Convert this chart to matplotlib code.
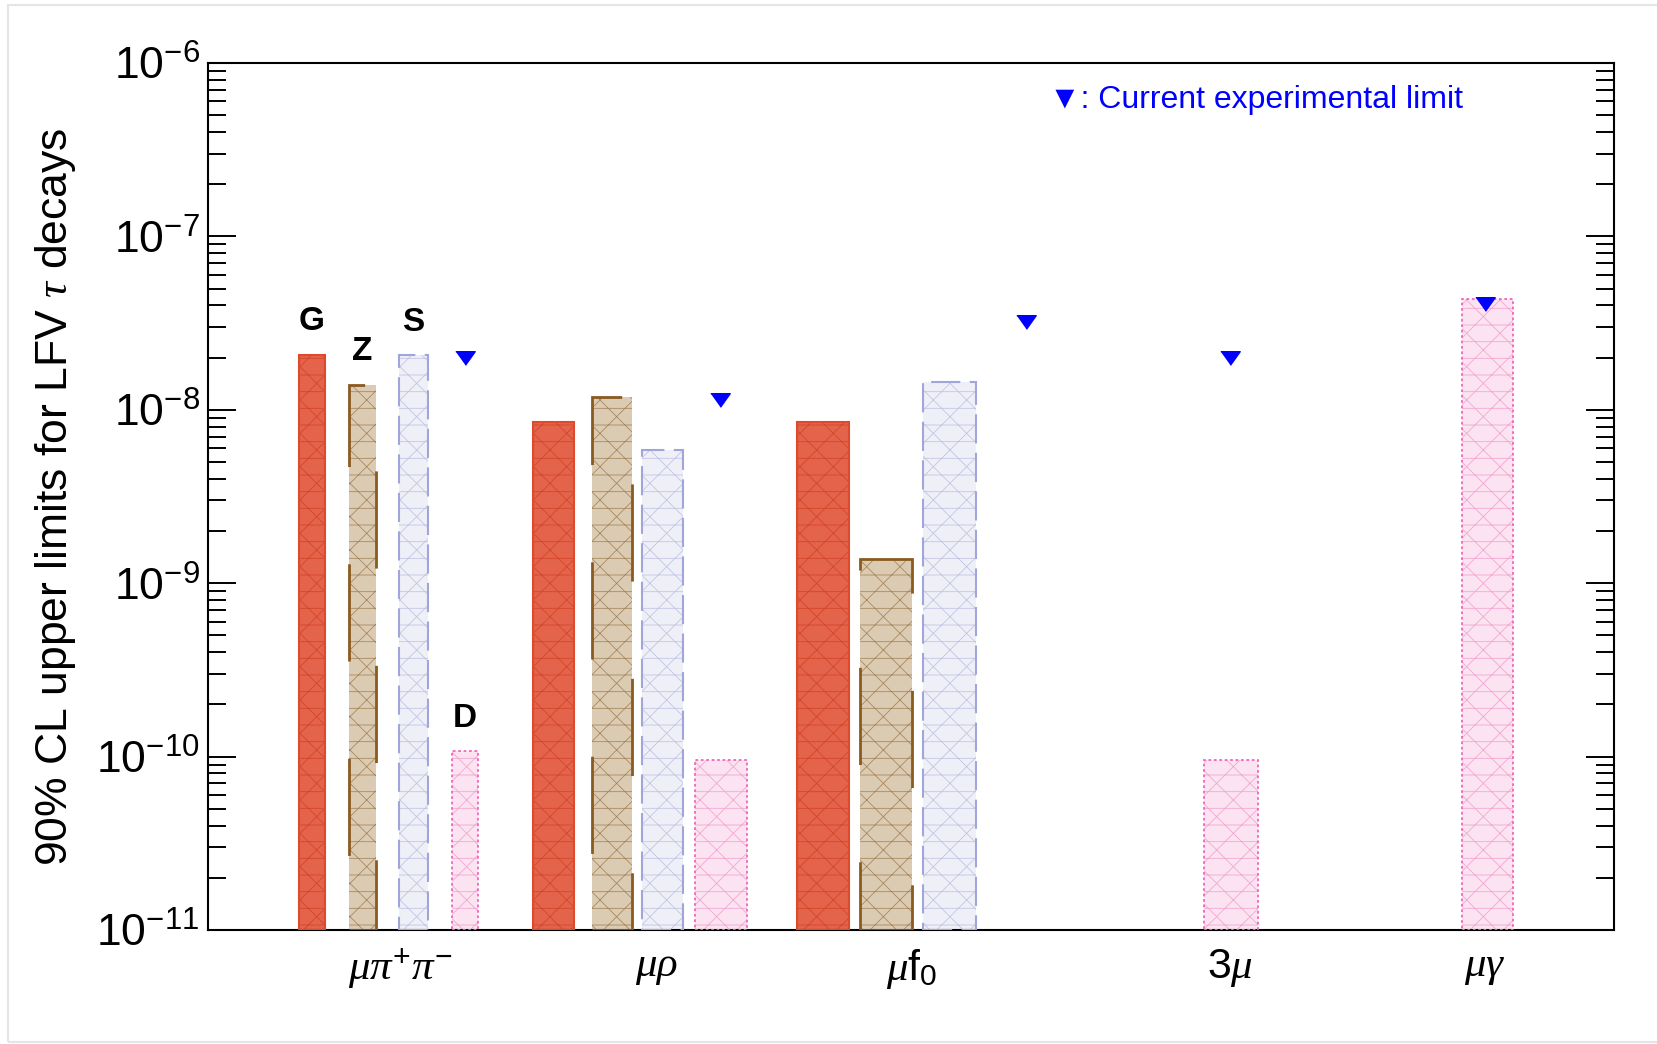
import matplotlib
matplotlib.use("Agg")
import matplotlib.pyplot as plt
from matplotlib.patches import Rectangle
from matplotlib.ticker import LogLocator, NullFormatter

# ======================================
# DATA
# ======================================

decays = [r"$\mu\pi^{+}\pi^{-}$", r"$\mu\rho$", r"$\mu\mathrm{f}_{0}$", r"$3\mu$", r"$\mu\gamma$"]
models = ["G", "Z", "S", "D"]

limit_G = [2.07e-8, 8.5e-9, 8.5e-9, None, None]
limit_Z = [1.39e-8, 1.19e-8, 1.38e-9, None, None]
limit_S = [2.06e-8, 5.86e-9, 1.45e-8, None, None]
limit_D = [1.07e-10, 9.5e-11, None, 9.5e-11, 4.36e-8]

exp_limit = [2.0e-8, 1.14e-8, 3.2e-8, 2.0e-8, 4.1e-8]

limits = {"G": limit_G, "Z": limit_Z, "S": limit_S, "D": limit_D}

# ======================================
# LAYOUT / STYLE
# ======================================

tick_x = [1.82, 4.24, 6.66, 9.67, 12.08]

bar_offset = {
    "G": [-0.835, -0.97, -0.845, 0.0, 0.0],
    "Z": [-0.36, -0.42, -0.245, 0.0, 0.0],
    "S": [0.125, 0.06, 0.355, 0.0, 0.0],
    "D": [0.61, 0.61, 0.0, 0.005, 0.025],
}
bar_width = {
    "G": [0.25, 0.39, 0.49, 0.5, 0.5],
    "Z": [0.26, 0.38, 0.49, 0.5, 0.5],
    "S": [0.27, 0.38, 0.51, 0.5, 0.5],
    "D": [0.24, 0.49, 0.5, 0.51, 0.49],
}
tri_offset = [0.61, 0.60, 1.08, 0.0, 0.0]

styles = {
    "G": dict(fc="#e3644b", hc="#d4462b", ec="#e04a2c", ls="-", lw=1.5),
    "Z": dict(fc="#dccbb3", hc="#a88a60", ec="#8a5a1f", ls=(0, (35, 35)), lw=2.0),
    "S": dict(fc="#efeff7", hc="#c3c6e4", ec="#a0a6da", ls=(0, (14, 4.5)), lw=1.5),
    "D": dict(fc="#fbe3f1", hc="#f3a8d2", ec="#f067b8", ls=(0, (1.5, 1.5)), lw=1.3),
}

ymin, ymax = 1e-11, 1e-6

plt.rcParams["font.family"] = ["Liberation Sans", "DejaVu Sans"]
plt.rcParams["mathtext.fontset"] = "custom"
plt.rcParams["mathtext.rm"] = "Liberation Sans"
plt.rcParams["mathtext.it"] = "Liberation Serif:italic"
plt.rcParams["mathtext.bf"] = "Liberation Sans:bold"
plt.rcParams["hatch.linewidth"] = 0.6

fig = plt.figure(figsize=(16.57, 10.44), dpi=100)
ax = fig.add_axes([0.1255, 0.1092, 0.8485, 0.8305])
ax.set_yscale("log")

# ======================================
# BARS
# ======================================

for m in models:
    st = styles[m]
    for i, v in enumerate(limits[m]):
        if v is None:
            continue
        x = tick_x[i] + bar_offset[m][i]
        w = bar_width[m][i]
        ax.bar(x, v - ymin, width=w, bottom=ymin, color=st["fc"],
               edgecolor=st["hc"], linewidth=0, hatch="x-", zorder=2)
        ax.bar(x, v - ymin, width=w, bottom=ymin, fill=False,
               edgecolor=st["ec"], linewidth=st["lw"], linestyle=st["ls"], zorder=3)
        if i == 0:
            ax.annotate(m, (x, v), xytext=(0, 24), textcoords="offset points",
                        ha="center", va="center", fontsize=24, fontweight="bold")

# current experimental limits
tri = [(-1, 0.7), (1, 0.7), (0, -0.7)]
tri_x = [t + o for t, o in zip(tick_x, tri_offset)]
ax.plot(tri_x, exp_limit, linestyle="none", marker=tri, markersize=14,
        color="#0000ff", zorder=4)

ax.text(0.598, 0.957, "\u25bc: Current experimental limit", transform=ax.transAxes,
        color="#0000ff", fontsize=23, ha="left", va="center")

# ======================================
# AXES
# ======================================

ax.set_xlim(0, 13.30)
ax.set_ylim(ymin, ymax)

ax.set_xticks(tick_x)
ax.set_xticklabels(decays, fontsize=31)
ax.tick_params(axis="x", direction="in", length=3, width=1.4, pad=12, top=False)

ax.set_yticks([10.0 ** k for k in range(-11, -5)])
ax.yaxis.set_minor_locator(LogLocator(base=10, subs=range(2, 10)))
ax.yaxis.set_minor_formatter(NullFormatter())
ax.tick_params(axis="y", which="major", direction="in", length=20, width=1.4,
               left=True, right=True, labelsize=32, pad=6)
ax.tick_params(axis="y", which="minor", direction="in", length=13, width=1.4,
               left=True, right=True)

ax.set_ylabel(r"90% CL upper limits for LFV $\tau$ decays", fontsize=32)
ax.yaxis.set_label_coords(-0.0925, 0.5)

for sp in ax.spines.values():
    sp.set_linewidth(1.5)

# faint outer frame
fig.patches.append(Rectangle((0.0048, 0.0019), 1.01, 0.9933, transform=fig.transFigure,
                             fill=False, edgecolor="#e2e6e6", linewidth=1.5))

fig.savefig("out.png", dpi=100)
